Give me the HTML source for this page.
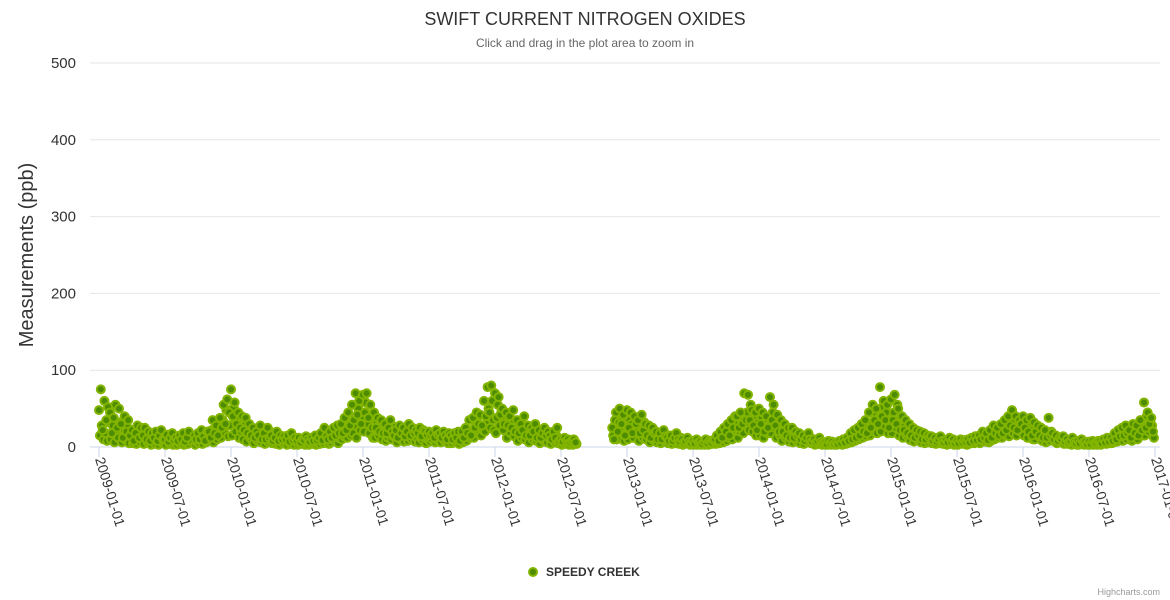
<!DOCTYPE html>
<html><head><meta charset="utf-8"><style>
body{margin:0;background:#fff;font-family:"Liberation Sans",sans-serif;}
svg{display:block}
</style></head><body>
<svg id="chart" width="1170" height="600" xmlns="http://www.w3.org/2000/svg">
<text x="585" y="25" text-anchor="middle" font-size="18" fill="#333">SWIFT CURRENT NITROGEN OXIDES</text>
<text x="585" y="47" text-anchor="middle" font-size="12" fill="#666">Click and drag in the plot area to zoom in</text>
<text transform="translate(33,255) rotate(-90)" text-anchor="middle" font-size="20" fill="#333">Measurements (ppb)</text>
<g id="grid"></g><g id="xaxis"></g><g id="points"></g>
<g>
<circle cx="533" cy="572" r="4" fill="#4d8c00" stroke="#82b400" stroke-width="2"/>
<text x="546" y="576" font-size="12" font-weight="bold" fill="#333">SPEEDY CREEK</text>
</g>
<text x="1160" y="595" text-anchor="end" font-size="9" fill="#999">Highcharts.com</text>
</svg>
<script>
const yTicks=[0,100,200,300,400,500];
const xTickLabels=["2009-01-01","2009-07-01","2010-01-01","2010-07-01","2011-01-01","2011-07-01","2012-01-01","2012-07-01","2013-01-01","2013-07-01","2014-01-01","2014-07-01","2015-01-01","2015-07-01","2016-01-01","2016-07-01","2017-01-01"];
const startYear=2009;
const N=null;
const monthlyValues=[
[48,75,22,60,35,52],[45,18,38,55,25,50],[30,12,40,20,35,15],[22,8,18,28,12,25],[15,25,10,20,8,18],[12,20,8,15,22,10],[10,16,7,12,18,9],[12,8,15,10,18,7],[12,20,N,N,15,10],[18,10,22,14,8,20],[20,12,35,18,28,15],[38,25,55,30,62,45],
[75,40,58,30,45,25],[40,22,38,18,30,15],[25,12,20,15,28,10],[18,10,25,12,15,8],[12,20,8,15,10,14],[10,15,7,18,9,12],[8,12,6,10,9,14],[10,7,12,8,15,9],[12,18,9,25,14,10],[20,12,25,15,28,18],[30,18,38,22,45,28],[55,35,70,42,60,30],
[68,45,70,38,55,25],[45,25,38,20,35,18],[30,18,25,35,20,15],[22,12,28,18,25,14],[20,30,15,25,18,22],[18,25,14,22,20,16],[20,15,18,12,22,16],[18,12,20,15,10,18],[15,10,18,12,20,8],[20,12,25,18,35,15],[38,25,45,30,42,28],[60,40,78,45,80,35],
[70,38,65,42,50,30],[45,28,40,25,48,20],[35,18,30,22,40,15],[28,15,25,20,30,12],[22,12,18,25,15,20],[15,10,20,12,25,8],[10,7,12,8,10,6],[8,10,6,N,N,N],[N,N,N,N,N,N],[N,N,N,N,N,N],[N,N,N,N,25,10],[45,20,50,30,42,15],
[48,25,45,18,40,30],[35,18,42,22,30,15],[28,12,25,18,20,10],[18,10,22,14,12,8],[15,8,12,18,10,7],[10,6,8,12,7,5],[8,5,10,6,7,4],[7,10,5,8,6,9],[10,15,8,20,12,25],[20,30,15,35,25,40],[40,25,45,30,70,35],[68,35,48,28,45,22],
[50,30,45,20,40,25],[65,35,55,28,42,20],[35,20,30,15,25,12],[25,12,20,15,18,10],[15,8,12,18,10,7],[10,6,8,12,7,5],[6,4,8,5,7,4],[6,4,8,5,10,6],[12,8,18,10,22,12],[25,15,30,20,35,18],[45,25,55,35,50,30],[78,40,60,35,55,25],
[62,35,68,30,50,22],[40,22,35,18,30,15],[25,12,22,15,20,10],[18,10,15,12,14,8],[12,7,10,14,8,6],[9,6,12,7,10,5],[8,5,10,6,9,7],[10,6,12,8,14,9],[15,10,20,12,18,9],[22,12,28,18,25,15],[30,18,35,22,40,28],[48,25,40,22,35,30],
[40,25,35,20,38,15],[32,20,28,15,25,12],[22,12,38,15,18,10],[15,8,12,10,14,7],[10,6,8,12,7,5],[8,5,10,6,7,4],[7,4,8,5,6,8],[8,5,10,6,12,7],[12,8,18,10,22,14],[25,15,28,18,22,12],[30,18,28,15,35,22],[58,25,45,30,38,20]
];
const monthlyLows=[
[15,28,10,18,8,32],[10,28,6,20,12,32],[6,22,9,26,5,18],[5,14,4,16,6,11],[4,11,6,13,3,7],[4,9,3,12,5,6],[3,8,4,6,3,5],[3,6,4,9,3,5],[4,8,N,N,3,6],[5,12,4,9,6,13],[8,22,6,15,10,24],[12,35,18,48,14,28],
[15,52,20,35,12,20],[10,28,7,24,12,9],[5,16,8,22,6,18],[4,14,6,20,5,11],[4,9,3,6,5,8],[3,6,4,11,3,7],[3,5,4,7,3,4],[3,5,4,6,3,5],[4,7,5,9,6,4],[6,10,8,14,5,11],[10,14,24,12,20,15],[18,28,12,50,22,40],
[20,58,30,18,42,12],[12,32,15,28,10,22],[8,12,22,10,14,26],[6,20,10,16,7,18],[8,14,10,18,7,12],[6,12,9,15,5,10],[7,10,14,6,9,12],[6,14,8,12,5,9],[5,8,6,12,4,7],[6,10,8,14,12,22],[12,18,32,20,15,22],[20,30,50,25,60,22],
[18,55,28,45,22,35],[12,35,18,32,14,25],[8,25,12,28,10,22],[6,18,10,22,8,16],[5,14,8,10,6,12],[4,12,6,15,5,10],[3,5,4,6,3,5],[3,5,4,N,N,N],[N,N,N,N,N,N],[N,N,N,N,N,N],[N,N,N,N,15,35],[10,32,25,38,8,28],
[10,35,30,12,28,20],[8,28,12,32,10,22],[6,18,9,15,6,14],[5,12,7,16,5,10],[4,10,5,7,4,12],[3,4,5,8,3,6],[3,4,3,5,3,6],[3,4,3,5,4,6],[4,6,5,12,6,15],[8,12,20,10,22,30],[12,20,35,18,28,45],[22,55,20,40,15,32],
[15,38,12,32,18,28],[18,45,25,12,35,15],[8,26,12,20,7,18],[6,18,8,14,5,12],[4,11,6,14,5,9],[3,5,4,9,3,6],[3,3,5,3,4,3],[3,4,5,3,6,4],[5,10,6,14,8,16],[10,20,12,25,14,28],[15,30,20,40,18,38],[20,52,28,45,18,35],
[18,45,25,55,15,38],[12,28,15,25,9,20],[7,18,9,16,6,14],[5,12,6,10,5,9],[4,9,5,6,4,8],[3,5,4,8,3,6],[3,4,6,4,5,3],[4,5,7,5,8,6],[5,8,12,7,14,6],[8,18,10,22,12,20],[12,24,15,28,14,32],[18,35,15,30,20,25],
[15,30,12,28,22,10],[10,22,14,20,8,18],[6,16,8,20,10,7],[5,10,6,8,4,10],[4,5,3,9,4,3],[3,4,6,3,5,3],[3,5,3,4,3,5],[3,4,6,4,8,5],[5,6,12,7,16,9],[8,20,10,14,16,8],[12,24,10,22,28,15],[15,40,20,35,28,12]
];
const NS="http://www.w3.org/2000/svg";
const x0=99,yearPx=132,plotL=90,plotR=1160,yTop=63,yBot=447;
function xYears(y){return x0+y*yearPx;}
function yScale(v){return yBot-(v/500)*(yBot-yTop);}
function mk(t,a,p){const e=document.createElementNS(NS,t);for(const k in a)e.setAttribute(k,a[k]);p.appendChild(e);return e;}
const grid=document.getElementById('grid');
yTicks.forEach(v=>{
  const y=yScale(v);
  const l=mk('line',{x1:plotL,x2:plotR,y1:y,y2:y,stroke:v===0?'#ccd6eb':'#e6e6e6','stroke-width':1},grid);
  
  
  const t=mk('text',{x:76,y:y+5,'text-anchor':'end','font-size':15,fill:'#333'},grid);
  t.textContent=v;
  
  
});
const xa=document.getElementById('xaxis');
xTickLabels.forEach(s=>{
  const yr=+s.slice(0,4)-startYear+(+s.slice(5,7)-1)/12;
  const x=xYears(yr);
  const tk=mk('line',{x1:x,x2:x,y1:yBot,y2:yBot+10,stroke:'#ccd6eb'},xa);
  
  
  const t=mk('text',{x:0,y:0,'font-size':14,fill:'#333',transform:`translate(${x-4},${yBot+12}) rotate(73)`},xa);
  t.textContent=s;
  
  
});
const pg=document.getElementById('points');
function drawSeries(arr,offsetDays){
  arr.forEach((vals,m)=>{
    vals.forEach((v,k)=>{
      if(v===null)return;
      const yr=(m+(k*5+offsetDays)/30.4)/12;
      const c=mk('circle',{cx:xYears(yr),cy:yScale(v),r:4,fill:'#4d8c00',stroke:'#82b400','stroke-width':2},pg);
      
      
    });
  });
}
drawSeries(monthlyLows,2.5);
drawSeries(monthlyValues,0);
</script>
</body></html>
